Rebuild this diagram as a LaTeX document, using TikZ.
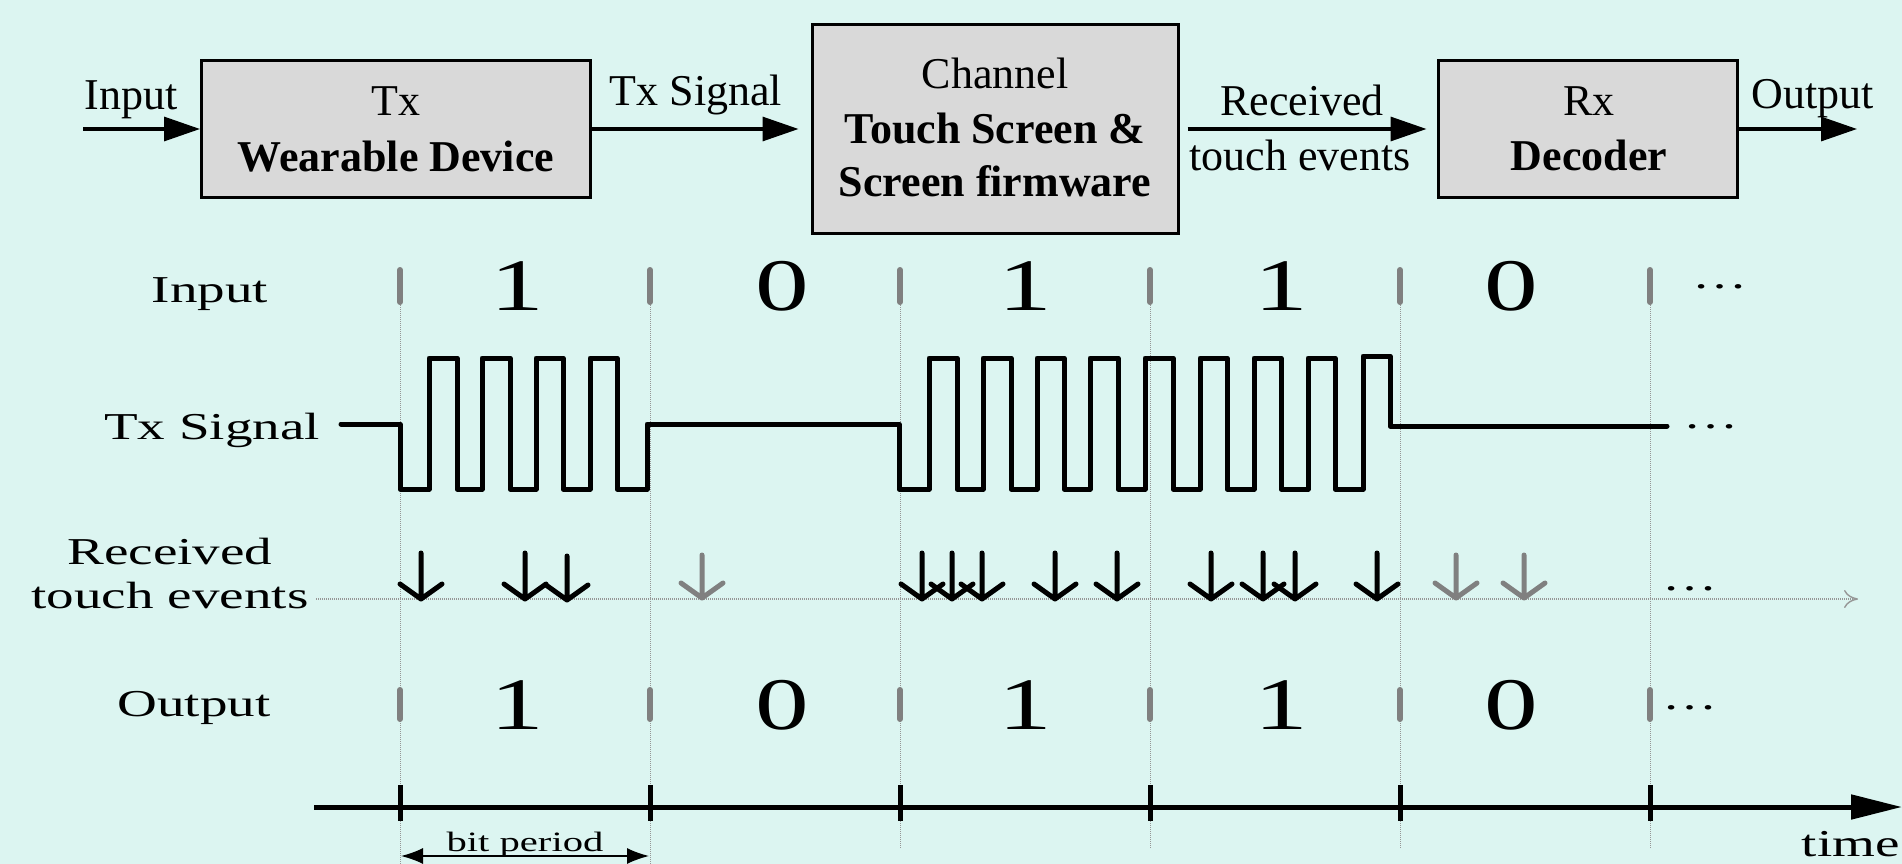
\documentclass[tikz,border=0pt]{standalone}
\usepackage{fontspec}
\setmainfont{Liberation Serif}
\usepackage{graphicx}
\usetikzlibrary{arrows.meta}
\definecolor{bg}{RGB}{220,245,241}
\definecolor{boxfill}{RGB}{217,217,217}
\definecolor{tickgray}{RGB}{128,128,128}
\definecolor{gridgray}{RGB}{150,150,150}
\newcommand{\stx}[1]{\scalebox{1.45}[1]{#1}}
\begin{document}
\begin{tikzpicture}[x=1pt,y=-1pt,
  blk/.style={draw=black, line width=3pt, fill=boxfill, inner sep=0pt},
  toptext/.style={anchor=base, inner sep=0pt, font=\fontsize{44}{52}\selectfont},
  topbold/.style={anchor=base, inner sep=0pt, font=\fontsize{44}{52}\selectfont\bfseries},
  flow/.style={line width=3.2pt, -{Triangle[length=36pt,width=24pt]}},
  rowlab/.style={anchor=base, inner sep=0pt, font=\fontsize{38}{44}\selectfont},
  digit/.style={anchor=base, inner sep=0pt, font=\fontsize{74}{80}\selectfont},
  gridline/.style={gridgray, line width=1pt, densely dotted},
  bittick/.style={tickgray, line width=6pt, line cap=round},
  axtick/.style={black, line width=5pt},
  wave/.style={line width=5pt, line join=round, line cap=round},
  evt/.style={line width=5pt, line cap=round, line join=round},
]
\useasboundingbox (0,0) rectangle (1902,864);
\fill[bg] (0,0) rectangle (1902,864);

% ---------- block diagram ----------
\node[blk, minimum width=388.5pt, minimum height=137pt] (tx) at (395.75,129) {};
\node[blk, minimum width=366pt, minimum height=208pt] (ch) at (995,129) {};
\node[blk, minimum width=299pt, minimum height=137pt] (rx) at (1587.5,129) {};
\coordinate (inS) at (83,129);
\coordinate (outE) at (1857,129);
\draw[flow] (inS) -- (tx.west);
\draw[flow, shorten >=12pt] (tx.east) -- (ch.west);
\draw[flow, shorten <=8pt, shorten >=10pt] (ch.east) -- (rx.west);
\draw[flow] (rx.east) -- (outE);

\node[toptext] (linput) at (131,110) {Input};
\node[toptext] (ltxsig) at (696,106) {Tx Signal};
\node[toptext] (txa) at (396,116) {Tx};
\node[topbold] (txb) at (396,171) {Wearable Device};
\node[toptext] (cha) at (995,89) {Channel};
\node[topbold] (chb) at (995,143) {Touch Screen \&};
\node[topbold] (chc) at (995,196) {Screen firmware};
\node[toptext] (rca) at (1302,116) {Received};
\node[toptext] (rcb) at (1300,170) {touch events};
\node[toptext] (rxa) at (1589,116) {Rx};
\node[topbold] (rxb) at (1589,170) {Decoder};
\node[toptext] (lout) at (1813,109) {Output};

% ---------- timing grid ----------
\foreach \x in {400,650} \draw[gridline] (\x,269) -- (\x,864);
\foreach \x in {900,1150,1400,1650} \draw[gridline] (\x,269) -- (\x,848);

\foreach \x in {400,650,900,1150,1400,1650} {
  \draw[bittick] (\x,270) -- (\x,302);
  \draw[bittick] (\x,690) -- (\x,719);
  \draw[axtick] (\x,785) -- (\x,821);
}

% row labels
\node[rowlab] (rInput) at (210,302) {\stx{Input}};
\node[rowlab] (rTx) at (212,439) {\stx{Tx Signal}};
\node[rowlab] (rRec) at (170,564) {\stx{Received}};
\node[rowlab] (rTouch) at (170,608) {\stx{touch events}};
\node[rowlab] (rOut) at (194,716) {\stx{Output}};

% digits
\node[digit] (i1) at (517,310) {\stx{1}};
\node[digit] (i2) at (782,310) {\stx{0}};
\node[digit] (i3) at (1025,310) {\stx{1}};
\node[digit] (i4) at (1281,310) {\stx{1}};
\node[digit] (i5) at (1511,310) {\stx{0}};
\node[digit] (o1) at (517,729) {\stx{1}};
\node[digit] (o2) at (782,729) {\stx{0}};
\node[digit] (o3) at (1025,729) {\stx{1}};
\node[digit] (o4) at (1281,729) {\stx{1}};
\node[digit] (o5) at (1511,729) {\stx{0}};

% ellipses
\node[rowlab] (d1) at (1720,288) {\stx{…}};
\node[rowlab] (d2) at (1711,428) {\stx{…}};
\node[rowlab] (d3) at (1690,590) {\stx{…}};
\node[rowlab] (d4) at (1690,709) {\stx{…}};

% Tx waveform
\draw[wave] (341,424) -- (400,424) -- (400,489)
  -- (429,489) -- (429,358) -- (457,358) -- (457,489)
  -- (482,489) -- (482,358) -- (510,358) -- (510,489)
  -- (536,489) -- (536,358) -- (563,358) -- (563,489)
  -- (590,489) -- (590,358) -- (617,358) -- (617,489)
  -- (647,489) -- (647,424) -- (899,424) -- (899,489)
  -- (929,489) -- (929,358) -- (957,358) -- (957,489)
  -- (983,489) -- (983,358) -- (1011,358) -- (1011,489)
  -- (1037,489) -- (1037,358) -- (1064,358) -- (1064,489)
  -- (1090,489) -- (1090,358) -- (1118,358) -- (1118,489)
  -- (1145,489) -- (1145,358) -- (1173,358) -- (1173,489)
  -- (1200,489) -- (1200,358) -- (1227,358) -- (1227,489)
  -- (1254,489) -- (1254,358) -- (1281,358) -- (1281,489)
  -- (1308,489) -- (1308,358) -- (1335,358) -- (1335,489)
  -- (1363,489) -- (1363,356) -- (1390,356) -- (1390,426) -- (1667,426);

% received events baseline
\coordinate (evS) at (316,599);
\coordinate (evE) at (1858,599);
\draw[gridline, line width=1.4pt, -{To[length=14pt,width=18pt]}] (evS) -- (evE);

% touch event arrows
\foreach \x in {421,525,922,952,982,1055,1117,1211,1263,1295,1377}
  \draw[evt] (\x,553) -- (\x,599) (\x-21,584) -- (\x,599) -- (\x+21,584);
\draw[evt] (567,556) -- (567,600) (546,585) -- (567,600) -- (588,585);
\foreach \x in {702,1456,1524}
  \draw[evt, tickgray] (\x,555) -- (\x,598) (\x-21,583) -- (\x,598) -- (\x+21,583);

% time axis
\coordinate (tS) at (314,807);
\coordinate (tE) at (1902,807);
\draw[line width=5pt, -{Triangle[length=51pt,width=24pt]}] (tS) -- (tE);
\node[rowlab, anchor=base east] (tlab) at (1900,856) {\stx{time}};

% bit period
\coordinate (bpL) at (401,856);
\coordinate (bpR) at (649,856);
\draw[line width=1.5pt, {Latex[length=22pt,width=16pt]}-{Latex[length=22pt,width=16pt]}] (bpL) -- (bpR);
\node[anchor=base, inner sep=0pt, font=\fontsize{28}{32}\selectfont] (bplab) at (525,851) {\stx{bit period}};
\end{tikzpicture}
\end{document}
